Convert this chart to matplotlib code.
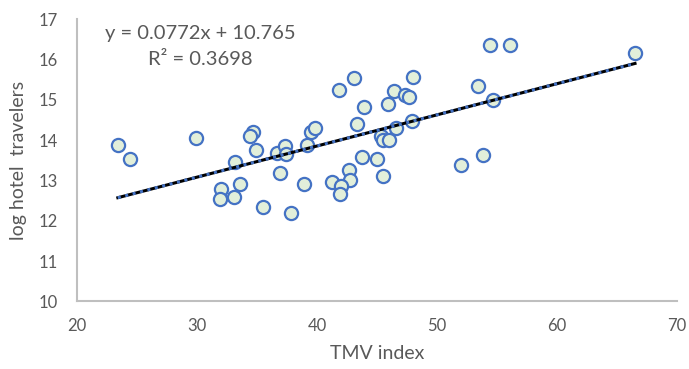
import numpy as np
import matplotlib
matplotlib.use("Agg")
import matplotlib.pyplot as plt

# TMV index vs log hotel travelers
tmv = [23.4, 24.4, 29.9, 34.7, 34.4, 34.9, 33.2, 33.6, 32.0, 31.9,
       33.1, 35.5, 37.8, 36.9, 36.7, 37.3, 37.4, 38.9, 39.5, 39.2,
       54.4, 56.1, 43.1, 41.8, 48.0, 53.4, 46.4, 47.3, 47.7, 45.9,
       43.9, 54.7, 39.8, 43.3, 47.9, 46.6, 45.3, 45.5, 46.0, 43.75,
       45.0, 42.7, 42.75, 41.25, 42.0, 41.9, 45.5, 52.0, 53.8, 66.5]
log_hotel = [13.87, 13.52, 14.06, 14.20, 14.10, 13.75, 13.46, 12.92, 12.78, 12.53,
             12.60, 12.34, 12.19, 13.18, 13.69, 13.86, 13.66, 12.91, 14.21, 13.89,
             16.35, 16.35, 15.53, 15.23, 15.57, 15.33, 15.21, 15.11, 15.06, 14.89,
             14.83, 14.99, 14.29, 14.39, 14.48, 14.29, 14.10, 13.99, 14.00, 13.58,
             13.53, 13.25, 13.01, 12.96, 12.86, 12.66, 13.11, 13.37, 13.64, 16.16]

slope = 0.0772
intercept = 10.765
r2 = 0.3698

plt.rcParams['font.family'] = ['Lato', 'DejaVu Sans']
cinza = '#595959'

fig = plt.figure(figsize=(6.89, 3.69), dpi=100)
ax = fig.add_axes([0.1118, 0.183, 0.8708, 0.7655])

ax.scatter(tmv, log_hotel, s=90, facecolor='#e2efda', edgecolor='#4472c4',
           linewidth=1.6, zorder=3)

# linha de tendencia
xl = np.array([min(tmv), max(tmv)])
yl = slope * xl + intercept
ax.plot(xl, yl, color='black', lw=2.2, zorder=4)
ax.plot(xl, yl, color='#4472c4', lw=2.2, ls=(0, (1, 1.5)), zorder=5)

ax.text(0.205, 0.95, 'y = %.4fx + %.3f' % (slope, intercept), transform=ax.transAxes,
        ha='center', va='center', fontsize=14.5, color=cinza)
ax.text(0.205, 0.855, 'R² = %.4f' % r2, transform=ax.transAxes,
        ha='center', va='center', fontsize=14.5, color=cinza)

ax.set_xlim(20, 70)
ax.set_ylim(10, 17)
ax.set_xticks(range(20, 71, 10))
ax.set_yticks(range(10, 18))
ax.tick_params(length=0, labelsize=12, labelcolor=cinza)
ax.tick_params(axis='x', pad=12)
ax.tick_params(axis='y', pad=14)

for s in ['top', 'right']:
    ax.spines[s].set_visible(False)
for s in ['left', 'bottom']:
    ax.spines[s].set_color('#bfbfbf')
    ax.spines[s].set_linewidth(1.5)

ax.set_xlabel('TMV index', fontsize=14, color=cinza, labelpad=8)
ax.set_ylabel('log hotel  travelers', fontsize=14, color=cinza, labelpad=8)

fig.savefig('out.png', dpi=100)
